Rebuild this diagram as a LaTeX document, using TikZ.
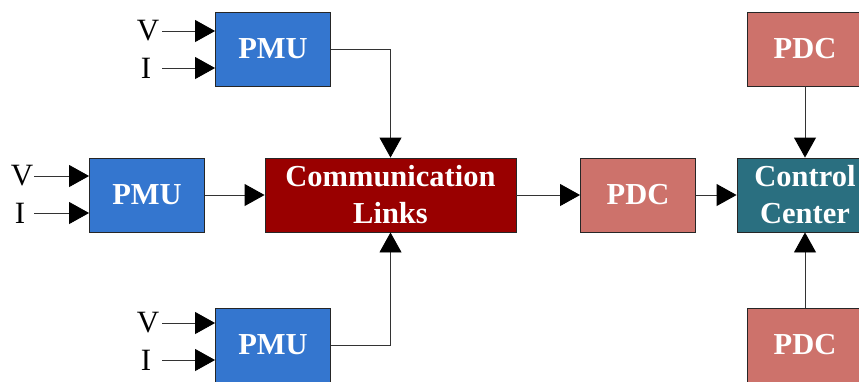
\documentclass[tikz,border=0pt]{standalone}
\usepackage{fontspec}
\setmainfont{Liberation Serif}
\usetikzlibrary{arrows.meta}
\definecolor{pmublue}{HTML}{3476CF}
\definecolor{linkred}{HTML}{990000}
\definecolor{pdcsalmon}{HTML}{CD726B}
\definecolor{ccteal}{HTML}{2A6F80}
\tikzset{
  block/.style={draw=black!85, line width=0.9pt, inner sep=0pt, align=center,
    text=white, font=\fontsize{30.5}{37}\selectfont\bfseries},
  pmubox/.style={block, fill=pmublue, minimum width=115pt, minimum height=74pt},
  pdcbox/.style={block, fill=pdcsalmon, minimum width=116pt, minimum height=74pt},
  sig/.style={font=\fontsize{31}{31}\selectfont, inner sep=0pt},
  link/.style={draw=black!80, line width=0.9pt,
    -{Triangle[length=20pt,width=22pt,color=black,fill=black]}},
}
\begin{document}
\begin{tikzpicture}[x=1pt, y=-1pt]
\useasboundingbox (0,0) rectangle (859,381);
\clip (0,0) rectangle (859,381);

% measurement units
\node[pmubox] (pmuA) at (273,49) {PMU};
\node[pmubox] (pmuB) at (147,195) {PMU};
\node[pmubox] (pmuC) at (273,345) {PMU};

% communication network, concentrator and control center
\node[block, fill=linkred, minimum width=251pt, minimum height=74pt] (comm) at (390.5,195) {Communication\\Links};
\node[pdcbox, minimum width=115pt] (pdcM) at (638,195) {PDC};
\node[block, fill=ccteal, minimum width=136pt, minimum height=74pt] (cc) at (805,195) {Control\\Center};
\node[pdcbox] (pdcT) at (805,49) {PDC};
\node[pdcbox] (pdcB) at (805,345) {PDC};

% voltage and current inputs
\node[sig] (vA) at (148,31) {V};
\node[sig] (iA) at (146,68) {I};
\node[sig] (vB) at (22,176) {V};
\node[sig] (iB) at (20,213) {I};
\node[sig] (vC) at (148,323) {V};
\node[sig] (iC) at (146,360) {I};
\coordinate (vAs) at (162,31);
\coordinate (iAs) at (162,68);
\coordinate (vBs) at (34,176);
\coordinate (iBs) at (34,213);
\coordinate (vCs) at (162,323);
\coordinate (iCs) at (162,360);
\draw[link] (vAs) -- (vAs -| pmuA.west);
\draw[link] (iAs) -- (iAs -| pmuA.west);
\draw[link] (vBs) -- (vBs -| pmuB.west);
\draw[link] (iBs) -- (iBs -| pmuB.west);
\draw[link] (vCs) -- (vCs -| pmuC.west);
\draw[link] (iCs) -- (iCs -| pmuC.west);

% data flow
\draw[link] (pmuA.east) -| (comm.north);
\draw[link] (pmuC.east) -| (comm.south);
\draw[link] (pmuB.east) -- (comm.west);
\draw[link] (comm.east) -- (pdcM.west);
\draw[link] (pdcM.east) -- (cc.west);
\draw[link] (pdcT.south) -- (cc.north);
\draw[link] (pdcB.north) -- (cc.south);
\end{tikzpicture}
\end{document}
